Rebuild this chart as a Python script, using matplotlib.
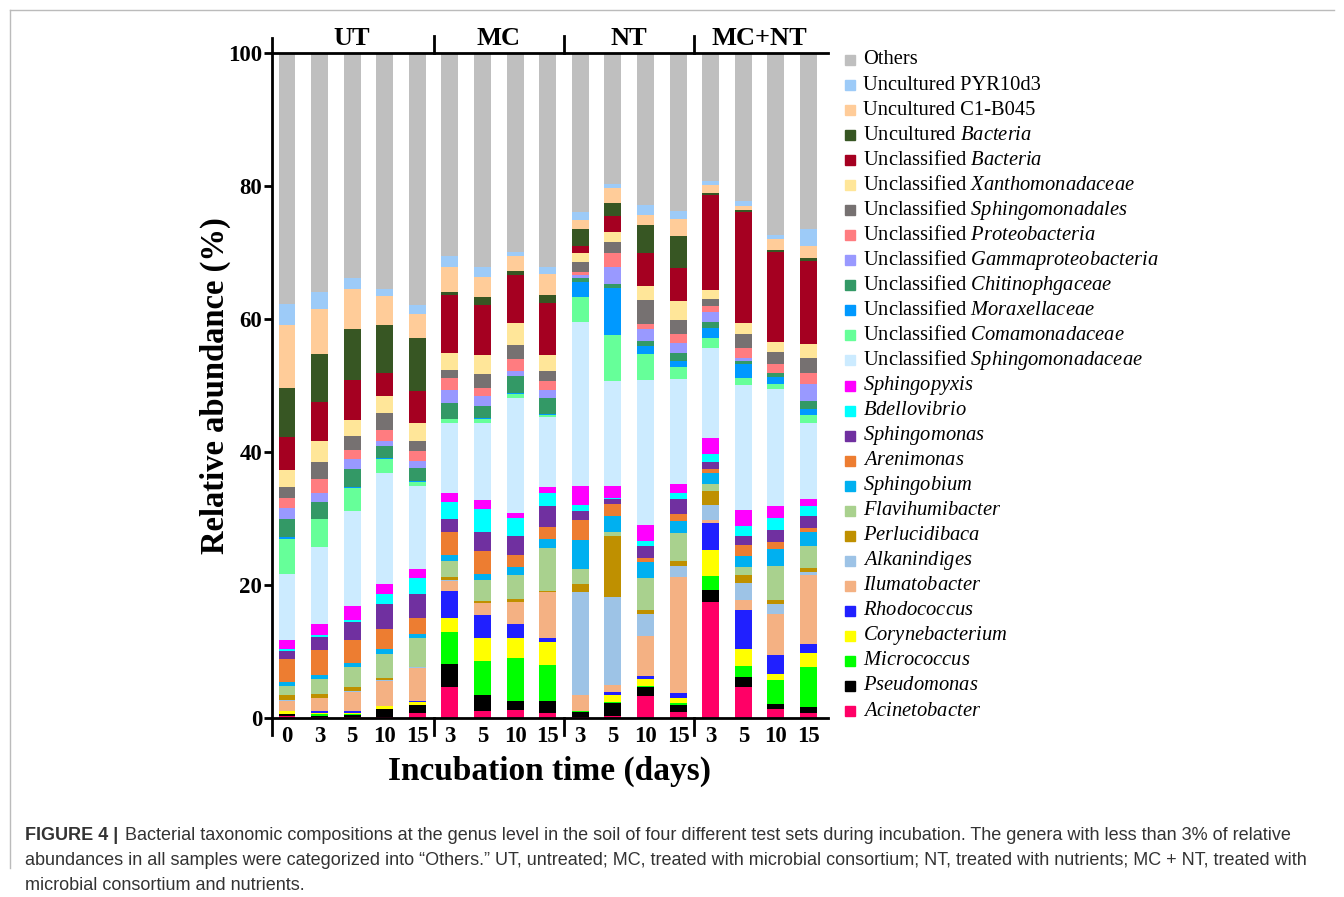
import numpy as np
import matplotlib.pyplot as plt
from matplotlib.patches import Rectangle
from matplotlib.lines import Line2D

plt.rcParams['font.family'] = ['Liberation Serif', 'DejaVu Serif']
plt.rcParams['mathtext.fontset'] = 'custom'
plt.rcParams['mathtext.rm'] = 'Liberation Serif'
plt.rcParams['mathtext.it'] = 'Liberation Serif:italic'

# 样本
groups = ["UT", "MC", "NT", "MC+NT"]
days = ["0", "3", "5", "10", "15", "3", "5", "10", "15",
        "3", "5", "10", "15", "3", "5", "10", "15"]

# 相对丰度 (%)，顺序：UT0 UT3 UT5 UT10 UT15 | MC3..15 | NT3..15 | MC+NT3..15
acinetobacter   = [0.3, 0.1, 0.1, 0.2, 0.8, 4.6, 1.1, 1.2, 0.7, 0.2, 0.3, 3.3, 0.9, 17.4, 4.7, 1.3, 0.7]
pseudomonas     = [0.3, 0.2, 0.4, 1.1, 1.1, 3.5, 2.4, 1.4, 1.9, 0.7, 1.9, 1.4, 1.0, 1.9, 1.4, 0.8, 0.9]
micrococcus     = [0.0, 0.3, 0.1, 0.1, 0.1, 4.8, 5.0, 6.4, 5.4, 0.1, 0.25, 0.15, 0.35, 2.1, 1.7, 3.6, 6.0]
corynebacterium = [0.4, 0.1, 0.1, 0.35, 0.4, 2.2, 3.5, 3.1, 3.5, 0.1, 1.0, 1.0, 0.8, 3.9, 2.6, 0.9, 2.2]
rhodococcus     = [0.1, 0.3, 0.3, 0.1, 0.1, 4.0, 3.5, 2.0, 0.6, 0.0, 0.4, 0.45, 0.7, 4.0, 5.9, 2.8, 1.3]
ilumatobacter   = [1.5, 2.0, 2.9, 3.7, 5.0, 1.5, 1.8, 3.35, 6.8, 2.4, 1.1, 6.0, 17.4, 0.5, 1.4, 6.2, 10.4]
alkanindiges    = [0.15, 0.0, 0.1, 0.1, 0.1, 0.1, 0.05, 0.05, 0.05, 15.4, 13.3, 3.3, 1.7, 2.2, 2.6, 1.5, 0.4]
perlucidibaca   = [0.7, 0.6, 0.7, 0.3, 0.1, 0.5, 0.25, 0.35, 0.1, 1.2, 9.1, 0.7, 0.7, 2.1, 1.2, 0.7, 0.6]
flavihumibacter = [1.3, 2.3, 2.9, 3.6, 4.3, 2.4, 3.2, 3.7, 6.5, 2.3, 0.6, 4.8, 4.2, 1.1, 1.2, 5.1, 3.4]
sphingobium     = [0.7, 0.5, 0.7, 0.9, 0.6, 0.9, 0.9, 1.1, 1.4, 4.4, 2.5, 2.3, 1.9, 1.6, 1.7, 2.5, 2.1]
arenimonas      = [3.4, 3.8, 3.5, 3.0, 2.5, 3.5, 3.4, 1.9, 1.7, 2.9, 1.8, 0.7, 1.0, 0.6, 1.6, 1.0, 0.5]
sphingomonas    = [1.3, 2.0, 2.7, 3.7, 3.6, 2.0, 2.9, 2.8, 3.3, 1.4, 0.65, 1.7, 2.3, 1.1, 1.4, 1.9, 1.9]
bdellovibrio    = [0.2, 0.3, 0.3, 1.5, 2.3, 2.5, 3.5, 2.8, 1.9, 1.0, 0.25, 0.8, 0.9, 1.2, 1.5, 1.8, 1.5]
sphingopyxis    = [1.4, 1.6, 2.1, 1.5, 1.4, 1.3, 1.3, 0.7, 0.9, 2.8, 1.7, 2.4, 1.4, 2.4, 2.4, 1.8, 1.1]
uncl_sphingomonadaceae = [9.9, 11.6, 14.2, 16.7, 12.5, 10.5, 11.5, 17.2, 10.5, 24.6, 15.9, 21.8, 15.7, 13.6, 18.7, 17.6, 11.4]
uncl_comamonadaceae    = [5.3, 4.2, 3.5, 2.1, 0.6, 0.6, 0.7, 0.7, 0.3, 3.8, 6.9, 3.9, 1.8, 1.4, 1.2, 0.8, 1.2]
uncl_moraxellaceae     = [0.2, 0.1, 0.1, 0.1, 0.1, 0.1, 0.05, 0.05, 0.2, 2.2, 7.0, 1.3, 1.0, 1.5, 2.0, 1.0, 0.8]
uncl_chitinophgaceae   = [2.7, 2.5, 2.8, 1.9, 2.0, 2.4, 1.9, 2.6, 2.4, 0.6, 0.6, 0.7, 1.2, 0.9, 0.5, 0.6, 1.3]
uncl_gammaproteo       = [1.7, 1.4, 1.4, 0.7, 1.1, 1.9, 1.4, 0.8, 1.1, 0.5, 2.6, 1.8, 1.4, 1.6, 0.5, 0.0, 2.5]
uncl_proteobacteria    = [1.6, 2.1, 1.4, 1.7, 1.5, 1.8, 1.3, 1.8, 1.4, 0.4, 2.1, 0.8, 1.4, 0.9, 1.5, 1.3, 1.7]
uncl_sphingomonadales  = [1.6, 2.5, 2.1, 2.5, 1.5, 1.2, 2.1, 2.1, 1.5, 1.5, 1.7, 3.5, 2.1, 1.0, 2.0, 1.8, 2.3]
uncl_xanthomonadaceae  = [2.5, 3.2, 2.4, 2.6, 2.7, 2.6, 2.8, 3.3, 2.5, 1.4, 1.4, 2.1, 2.9, 1.3, 1.7, 1.5, 2.1]
uncl_bacteria          = [5.0, 5.8, 6.0, 3.5, 4.8, 8.7, 7.6, 7.2, 7.7, 1.1, 2.5, 5.1, 4.9, 14.3, 16.7, 13.6, 12.4]
unc_bacteria           = [7.3, 7.2, 7.7, 7.2, 7.9, 0.5, 1.1, 0.6, 1.3, 2.5, 1.9, 4.2, 4.9, 0.3, 0.3, 0.3, 0.4]
unc_c1b045             = [9.6, 6.8, 6.0, 4.3, 3.6, 3.7, 3.1, 2.3, 3.1, 1.4, 2.3, 1.4, 2.5, 1.3, 0.6, 1.6, 1.9]
unc_pyr10d3            = [3.1, 2.5, 1.6, 1.1, 1.4, 1.7, 1.5, 0.6, 1.1, 1.2, 0.5, 1.5, 1.2, 0.6, 0.7, 0.7, 2.5]
others                 = [37.8, 36.1, 34.0, 35.4, 38.0, 30.6, 32.2, 30.0, 32.3, 24.1, 19.7, 22.9, 23.7, 19.2, 22.3, 27.3, 26.5]

# 图例顺序（从上到下）
series = [
    ("Others", others, "#BFBFBF"),
    ("Uncultured PYR10d3", unc_pyr10d3, "#9DCBF8"),
    ("Uncultured C1-B045", unc_c1b045, "#FFCC99"),
    ("Uncultured $\\mathit{Bacteria}$", unc_bacteria, "#375623"),
    ("Unclassified $\\mathit{Bacteria}$", uncl_bacteria, "#A50021"),
    ("Unclassified $\\mathit{Xanthomonadaceae}$", uncl_xanthomonadaceae, "#FFE699"),
    ("Unclassified $\\mathit{Sphingomonadales}$", uncl_sphingomonadales, "#767171"),
    ("Unclassified $\\mathit{Proteobacteria}$", uncl_proteobacteria, "#FF7C80"),
    ("Unclassified $\\mathit{Gammaproteobacteria}$", uncl_gammaproteo, "#9999FF"),
    ("Unclassified $\\mathit{Chitinophgaceae}$", uncl_chitinophgaceae, "#339966"),
    ("Unclassified $\\mathit{Moraxellaceae}$", uncl_moraxellaceae, "#0099FF"),
    ("Unclassified $\\mathit{Comamonadaceae}$", uncl_comamonadaceae, "#66FF99"),
    ("Unclassified $\\mathit{Sphingomonadaceae}$", uncl_sphingomonadaceae, "#CCEBFF"),
    ("$\\mathit{Sphingopyxis}$", sphingopyxis, "#FF00FF"),
    ("$\\mathit{Bdellovibrio}$", bdellovibrio, "#00FFFF"),
    ("$\\mathit{Sphingomonas}$", sphingomonas, "#7030A0"),
    ("$\\mathit{Arenimonas}$", arenimonas, "#ED7D31"),
    ("$\\mathit{Sphingobium}$", sphingobium, "#00B0F0"),
    ("$\\mathit{Flavihumibacter}$", flavihumibacter, "#A9D18E"),
    ("$\\mathit{Perlucidibaca}$", perlucidibaca, "#BF9000"),
    ("$\\mathit{Alkanindiges}$", alkanindiges, "#9DC3E6"),
    ("$\\mathit{Ilumatobacter}$", ilumatobacter, "#F4B183"),
    ("$\\mathit{Rhodococcus}$", rhodococcus, "#2020FF"),
    ("$\\mathit{Corynebacterium}$", corynebacterium, "#FFFF00"),
    ("$\\mathit{Micrococcus}$", micrococcus, "#00FF00"),
    ("$\\mathit{Pseudomonas}$", pseudomonas, "#000000"),
    ("$\\mathit{Acinetobacter}$", acinetobacter, "#FF0066"),
]

W, H = 1344, 897
fig = plt.figure(figsize=(W / 100, H / 100), dpi=100)
ax = fig.add_axes([272 / W, 1 - 718 / H, 556 / W, 665 / H])

x = np.arange(len(days))
bottom = np.zeros(len(days))
for name, vals, col in series[::-1]:
    ax.bar(x, vals, bottom=bottom, width=0.52, color=col, linewidth=0)
    bottom += np.array(vals)

x0, x1 = -0.46, 16.6
ax.set_xlim(x0, x1)
ax.set_ylim(0, 100)
for s in ax.spines.values():
    s.set_visible(False)

# 坐标轴线
lw = 2
ax.plot([x0, x0], [-2.6, 102.2], color="black", lw=lw, clip_on=False)
ax.plot([x0, x1], [100, 100], color="black", lw=lw, clip_on=False)
ax.plot([x0, x1], [0, 0], color="black", lw=lw, clip_on=False)
for sep in [4.5, 8.5, 12.5]:
    ax.plot([sep, sep], [100, 102.5], color="black", lw=lw, clip_on=False)
    ax.plot([sep, sep], [0, -2.6], color="black", lw=lw, clip_on=False)

ax.set_yticks([0, 20, 40, 60, 80, 100])
ax.set_yticklabels(["0", "20", "40", "60", "80", "100"], fontsize=16.5, fontweight="bold")
ax.tick_params(axis="y", length=6, width=2, pad=1)
ax.set_xticks(x)
ax.set_xticklabels(days, fontsize=16.5, fontweight="bold")
ax.tick_params(axis="x", length=0, pad=6)

centers = [2, 6.5, 10.5, 14.5]
for g, c in zip(groups, centers):
    ax.text(c, 100.4, g, ha="center", va="bottom", fontsize=19, fontweight="bold")

ax.set_ylabel("Relative abundance (%)", fontsize=23.5, fontweight="bold", labelpad=-2)
ax.set_xlabel("Incubation time (days)", fontsize=24, fontweight="bold", labelpad=6)

# 图例
for i, (name, vals, col) in enumerate(series):
    yc = 60 + i * 25.04
    fig.patches.append(Rectangle((845 / W, 1 - (yc + 5) / H), 10 / W, 10 / H,
                                 transform=fig.transFigure, color=col, figure=fig))
    fig.text(863 / W, 1 - yc / H, name, fontsize=14.8, va="center", ha="left")

# 外框
fig.add_artist(Line2D([10 / W, 1334 / W], [1 - 10 / H, 1 - 10 / H], color="#BBBBBB", lw=1))
fig.add_artist(Line2D([10 / W, 10 / W], [1 - 10 / H, 1 - 868 / H], color="#BBBBBB", lw=1))

# 图注
cap_font = ['Liberation Sans', 'DejaVu Sans']
fig.text(25 / W, 1 - 835 / H, "FIGURE 4 |", family=cap_font, fontsize=13, fontweight="bold",
         color="#333333", va="center")
fig.text(125 / W, 1 - 835 / H,
         "Bacterial taxonomic compositions at the genus level in the soil of four different test sets during incubation. The genera with less than 3% of relative",
         family=cap_font, fontsize=13, color="#333333", va="center")
fig.text(25 / W, 1 - 860 / H,
         "abundances in all samples were categorized into \u201cOthers.\u201d UT, untreated; MC, treated with microbial consortium; NT, treated with nutrients; MC + NT, treated with",
         family=cap_font, fontsize=13, color="#333333", va="center")
fig.text(25 / W, 1 - 885 / H, "microbial consortium and nutrients.",
         family=cap_font, fontsize=13, color="#333333", va="center")

plt.savefig("out.png", dpi=100)
